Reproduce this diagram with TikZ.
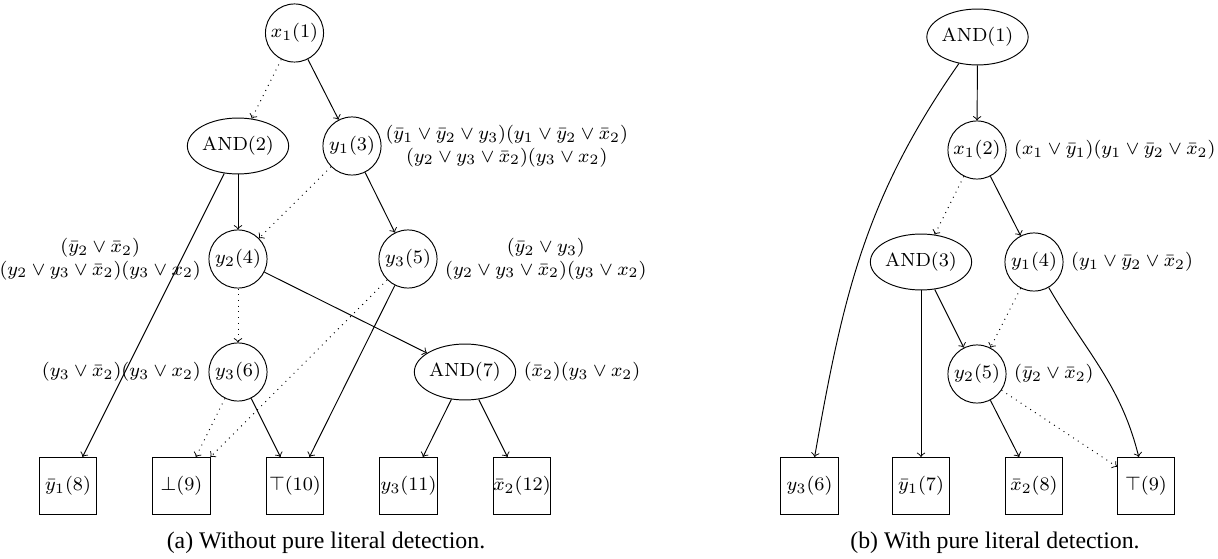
\documentclass[tikz,border=0pt]{standalone}
\usepackage{amsmath}
\usepackage{amssymb}
\usepackage{fontspec}
\newfontfamily\capfont{Liberation Serif}
\usetikzlibrary{shapes,arrows,positioning,calc}

\begin{document}
\begin{tikzpicture}[
    x=0.42pt, y=-0.42pt,
    node distance=2pt and 2pt,
    every node/.style={font=\footnotesize},
    var/.style={circle, draw=black, minimum size=24.4pt, inner sep=0pt},
    gate/.style={ellipse, draw=black, minimum width=42pt, minimum height=23.5pt, inner sep=0pt},
    leaf/.style={rectangle, draw=black, minimum size=24pt, inner sep=0pt},
    clause/.style={inner sep=1pt, align=center},
    hi/.style={->},
    lo/.style={->, dotted},
    caption/.style={font=\capfont\normalsize, inner sep=0pt}
]
    \useasboundingbox (0,0) rectangle (1218,559);

    % (a) Without pure literal detection
    \node[var] (l1) at (294.5,33) {$x_1(1)$};
    \node[gate] (l2) at (238,146) {$\mathrm{AND}(2)$};
    \node[var] (l3) at (352,146) {$y_1(3)$};
    \node[var] (l4) at (238,259) {$y_2(4)$};
    \node[var] (l5) at (408,259) {$y_3(5)$};
    \node[var] (l6) at (238,372) {$y_3(6)$};
    \node[gate] (l7) at (465,372) {$\mathrm{AND}(7)$};
    \node[leaf] (l8) at (68,486) {$\bar{y}_1(8)$};
    \node[leaf] (l9) at (181.5,486) {$\bot(9)$};
    \node[leaf] (l10) at (295,486) {$\top(10)$};
    \node[leaf] (l11) at (408.5,486) {$y_3(11)$};
    \node[leaf] (l12) at (522,486) {$\bar{x}_2(12)$};

    % Clauses
    \node[clause, right=0.5pt of l3] (c3) {$(\bar{y}_1\vee\bar{y}_2\vee y_3)(y_1\vee\bar{y}_2\vee\bar{x}_2)$\\$(y_2\vee y_3\vee\bar{x}_2)(y_3\vee x_2)$};
    \node[clause, left=of l4] (c4) {$(\bar{y}_2\vee\bar{x}_2)$\\$(y_2\vee y_3\vee\bar{x}_2)(y_3\vee x_2)$};
    \node[clause, right=of l5] (c5) {$(\bar{y}_2\vee y_3)$\\$(y_2\vee y_3\vee\bar{x}_2)(y_3\vee x_2)$};
    \node[clause, left=of l6] (c6) {$(y_3\vee\bar{x}_2)(y_3\vee x_2)$};
    \node[clause, right=of l7] (c7) {$(\bar{x}_2)(y_3\vee x_2)$};

    % Arrows
    \draw[lo] (l1) -- (l2);
    \draw[hi] (l1) -- (l3);
    \draw[hi] (l2) -- (l4);
    \draw[hi] (l2) -- (l8);
    \draw[lo] (l3) -- (l4);
    \draw[hi] (l3) -- (l5);
    \draw[lo] (l4) -- (l6);
    \draw[hi] (l4) -- (l7);
    \draw[lo] (l5) -- (l9);
    \draw[hi] (l5) -- (l10);
    \draw[lo] (l6) -- (l9);
    \draw[hi] (l6) -- (l10);
    \draw[hi] (l7) -- (l11);
    \draw[hi] (l7) -- (l12);

    \node[caption] (capa) at (326,543) {(a) Without pure literal detection.};

    % (b) With pure literal detection
    \node[gate] (r1) at (977.5,37) {$\mathrm{AND}(1)$};
    \node[var] (r2) at (977,150) {$x_1(2)$};
    \node[gate] (r3) at (921,262) {$\mathrm{AND}(3)$};
    \node[var] (r4) at (1034,262) {$y_1(4)$};
    \node[var] (r5) at (977,374) {$y_2(5)$};
    \node[leaf] (r6) at (809.5,486) {$y_3(6)$};
    \node[leaf] (r7) at (921,486) {$\bar{y}_1(7)$};
    \node[leaf] (r8) at (1034,486) {$\bar{x}_2(8)$};
    \node[leaf] (r9) at (1146,486) {$\top(9)$};

    % Clauses
    \node[clause, right=of r2] (d2) {$(x_1\vee\bar{y}_1)(y_1\vee\bar{y}_2\vee\bar{x}_2)$};
    \node[clause, right=of r4] (d4) {$(y_1\vee\bar{y}_2\vee\bar{x}_2)$};
    \node[clause, right=of r5] (d5) {$(\bar{y}_2\vee\bar{x}_2)$};

    % Arrows
    \draw[hi] (r1) -- (r2);
    \draw[hi] (r1) to[out=-125, in=80] (r6);
    \draw[lo] (r2) -- (r3);
    \draw[hi] (r2) -- (r4);
    \draw[hi] (r3) -- (r7);
    \draw[hi] (r3) -- (r5);
    \draw[lo] (r4) -- (r5);
    \draw[hi] (r4) to[out=-60, in=104] (r9);
    \draw[hi] (r5) -- (r8);
    \draw[lo] (r5) -- (r9);

    \node[caption] (capb) at (995,543) {(b) With pure literal detection.};
\end{tikzpicture}
\end{document}
